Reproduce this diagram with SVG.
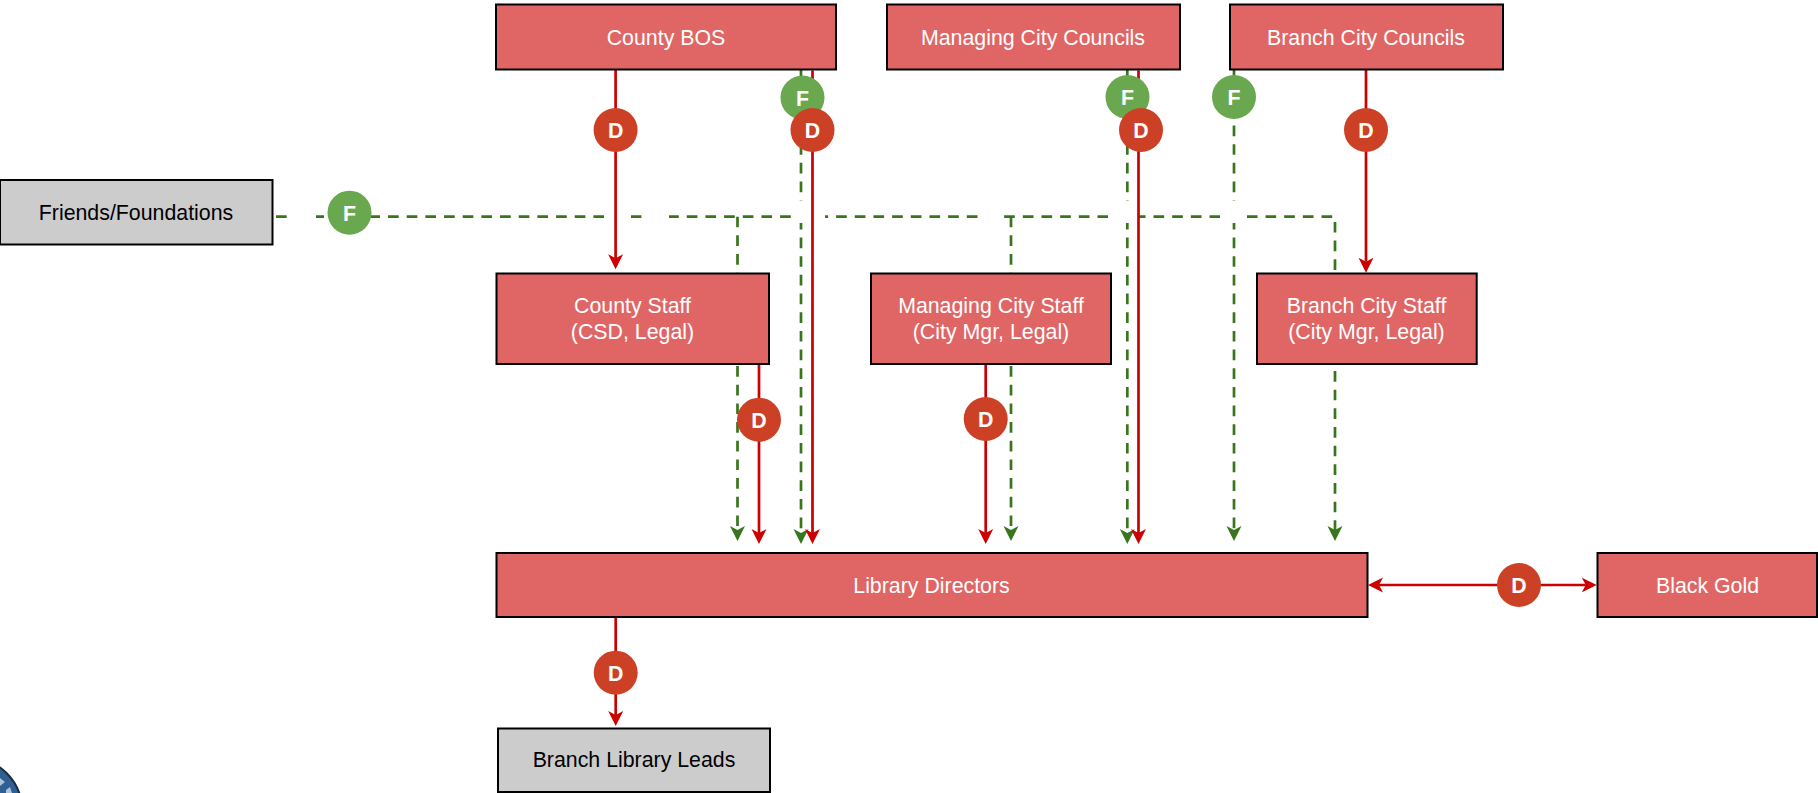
<svg xmlns="http://www.w3.org/2000/svg" width="1818" height="793" viewBox="0 0 1818 793">
<style>
.box{stroke:#000;stroke-width:2}
.red{fill:#e06666}.grey{fill:#ccc}
text{font-family:"Liberation Sans",Arial,sans-serif;font-size:21.33px;text-anchor:middle}
.w{fill:#fff}.k{fill:#000}
.bt{fill:#fff;font-weight:bold}
.d{fill:#cc4125}.f{fill:#6aa84f}
.rl{stroke:#c00;stroke-width:2.7;fill:none}
.gl{stroke:#38761d;stroke-width:2.7;fill:none;stroke-dasharray:10.67 8}
.gap{stroke:#fff;stroke-width:5;fill:none}
</style>
<defs>
<marker id="ar" markerUnits="userSpaceOnUse" markerWidth="16" markerHeight="16" refX="4" refY="8" orient="auto-start-reverse"><path d="M0 .5L15 8L0 15.500L4 8Z" fill="#c00"/></marker>
<marker id="ag" markerUnits="userSpaceOnUse" markerWidth="16" markerHeight="16" refX="4" refY="8" orient="auto"><path d="M0 .5L15 8L0 15.500L4 8Z" fill="#38761d"/></marker>
<clipPath id="logoclip"><circle cx="-30" cy="810" r="52"/></clipPath>
</defs>
<g id="connectors">
<g id="funding-lines">
<path class="gl" d="M276 216.700H1335V273"/>
<path class="gl" d="M737.500 216.700V530" marker-end="url(#ag)"/>
<path class="gl" d="M1011 216.700V530" marker-end="url(#ag)"/>
<path class="gl" d="M1335 371V530" marker-end="url(#ag)"/>
<path class="gl" d="M801 69.500V533" marker-end="url(#ag)"/>
<path class="gl" d="M1127.300 69.500V533" marker-end="url(#ag)"/>
<path class="gl" d="M1234 69.500V530" marker-end="url(#ag)"/>
<path class="gap" d="M287 216.700H316M604 216.700H631M642 216.700H669M791 216.700H825M978 216.700H1003.600M1108 216.700H1138M1220 216.700H1247"/>
<path class="gap" d="M801 200.500V223M1127.300 200.500V223M1234 200.500V223"/>
</g>
<g id="direct-lines">
<path class="rl" d="M615.600 69V258.300" marker-end="url(#ar)"/>
<path class="rl" d="M1366 69V261.700" marker-end="url(#ar)"/>
<path class="rl" d="M812.500 70.500V533" marker-end="url(#ar)"/>
<path class="rl" d="M1138.500 70.500V533" marker-end="url(#ar)"/>
<path class="rl" d="M759 364V533" marker-end="url(#ar)"/>
<path class="rl" d="M985.700 364V533" marker-end="url(#ar)"/>
<path class="rl" d="M615.700 617V715" marker-end="url(#ar)"/>
<path class="rl" d="M1379 585H1585.700" marker-start="url(#ar)" marker-end="url(#ar)"/>
</g>
</g>
<g id="county-bos"><rect class="box red" x="496" y="4.500" width="340" height="65"/><text class="w" x="666" y="44.500">County BOS</text></g>
<g id="managing-city-councils"><rect class="box red" x="887" y="4.500" width="293" height="65"/><text class="w" x="1033" y="44.500">Managing City Councils</text></g>
<g id="branch-city-councils"><rect class="box red" x="1230" y="4.500" width="273" height="65"/><text class="w" x="1366" y="44.500">Branch City Councils</text></g>
<g id="friends-foundations"><rect class="box grey" x="0" y="180" width="272.500" height="64.500"/><text class="k" x="136" y="220">Friends/Foundations</text></g>
<g id="county-staff"><rect class="box red" x="496.500" y="273.500" width="272.500" height="90.500"/><text class="w" x="632.500" y="312.700">County Staff</text><text class="w" x="632.500" y="339.300">(CSD, Legal)</text></g>
<g id="managing-city-staff"><rect class="box red" x="871" y="273.500" width="240" height="90.500"/><text class="w" x="991" y="312.700">Managing City Staff</text><text class="w" x="991" y="339.300">(City Mgr, Legal)</text></g>
<g id="branch-city-staff"><rect class="box red" x="1257" y="273.500" width="219.700" height="90.500"/><text class="w" x="1366.500" y="312.700">Branch City Staff</text><text class="w" x="1366.500" y="339.300">(City Mgr, Legal)</text></g>
<g id="library-directors"><rect class="box red" x="496.500" y="553" width="871" height="64"/><text class="w" x="931.500" y="592.700">Library Directors</text></g>
<g id="black-gold"><rect class="box red" x="1597.500" y="553" width="219.500" height="64"/><text class="w" x="1707.500" y="592.700">Black Gold</text></g>
<g id="branch-library-leads"><rect class="box grey" x="498" y="728.500" width="272" height="63.500"/><text class="k" x="634" y="767.300">Branch Library Leads</text></g>
<g id="badge-f1"><circle class="f" cx="349.500" cy="212.700" r="22"/><text class="bt" x="349.500" y="220.500">F</text></g>
<g id="badge-f2"><circle class="f" cx="802.500" cy="97.500" r="22"/><text class="bt" x="802.500" y="105.500">F</text></g>
<g id="badge-f3"><circle class="f" cx="1127.500" cy="97" r="22"/><text class="bt" x="1127.500" y="105">F</text></g>
<g id="badge-f4"><circle class="f" cx="1234" cy="97" r="22"/><text class="bt" x="1234" y="105">F</text></g>
<g id="badge-d1"><circle class="d" cx="615.600" cy="130" r="22"/><text class="bt" x="615.600" y="138">D</text></g>
<g id="badge-d2"><circle class="d" cx="812.500" cy="130" r="22"/><text class="bt" x="812.500" y="138">D</text></g>
<g id="badge-d3"><circle class="d" cx="1141" cy="130" r="22"/><text class="bt" x="1141" y="138">D</text></g>
<g id="badge-d4"><circle class="d" cx="1366" cy="130" r="22"/><text class="bt" x="1366" y="138">D</text></g>
<g id="badge-d5"><circle class="d" cx="759" cy="419.700" r="22"/><text class="bt" x="759" y="427.500">D</text></g>
<g id="badge-d6"><circle class="d" cx="985.700" cy="419" r="22"/><text class="bt" x="985.700" y="427">D</text></g>
<g id="badge-d7"><circle class="d" cx="1519" cy="585" r="22"/><text class="bt" x="1519" y="593">D</text></g>
<g id="badge-d8"><circle class="d" cx="615.700" cy="672.700" r="22"/><text class="bt" x="615.700" y="680.500">D</text></g>
<g id="logo"><circle cx="-30" cy="810" r="52" fill="#2f5f93" stroke="#1c2c40" stroke-width="2"/><g clip-path="url(#logoclip)" fill="#a9c4dc"><path d="M0 778L5 782L0 786Z"/><path d="M6 790L10 787L12 793H6Z"/></g></g>
</svg>
